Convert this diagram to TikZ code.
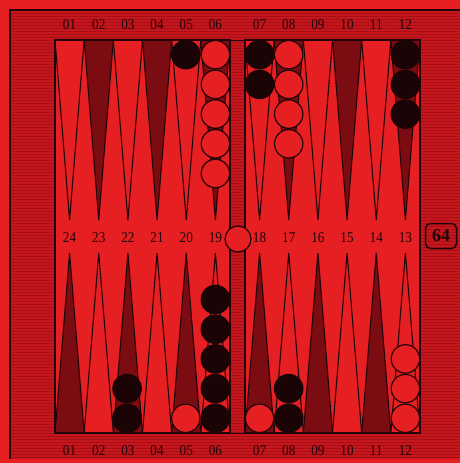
\documentclass[tikz,border=0pt]{standalone}
\usepackage{fontspec}
\setmainfont{Liberation Serif}
\newfontfamily\numfont{Liberation Serif}[FakeStretch=0.88]
\definecolor{field}{RGB}{230,32,34}
\definecolor{framec}{RGB}{196,22,28}
\definecolor{stripe}{RGB}{168,16,22}
\definecolor{darkpt}{RGB}{122,12,18}
\definecolor{blk}{RGB}{26,4,6}
\definecolor{ink}{RGB}{34,4,8}
\tikzset{
  numlbl/.style={inner sep=0pt, text=ink, font=\numfont\fontsize{15}{15}\selectfont},
  lightpt/.style={fill=field, draw=ink, line width=1.1pt, line join=miter},
  darkpoint/.style={fill=darkpt, draw=ink, line width=1.1pt},
  whitechk/.style={circle, minimum size=28.4pt, inner sep=0pt, fill=field, draw=ink, line width=1.2pt},
  blackchk/.style={circle, minimum size=28.6pt, inner sep=0pt, fill=blk, draw=blk, line width=1pt},
  cubebox/.style={draw=ink, line width=1.5pt, rounded corners=5pt, minimum width=31pt, minimum height=25pt, inner sep=0pt, text=ink, font=\bfseries\fontsize{18}{18}\selectfont}
}
\begin{document}
\begin{tikzpicture}[x=1pt,y=-1pt]
\useasboundingbox (0,0) rectangle (460,463);
% background
\fill[field] (0,0) rectangle (460,463);
% frame
\fill[framec] (10,10) rectangle (460,459);
\foreach \yy in {13,16,...,457} \draw[stripe, line width=0.6pt] (10,\yy) -- (460,\yy);
\draw[ink, line width=1.6pt] (10,459) -- (10,10) -- (460,10);
% bar
\fill[framec] (230,40) rectangle (245,433);
\foreach \yy in {42,45,...,432} \draw[stripe, line width=0.6pt] (231,\yy) -- (244,\yy);
\draw[ink, line width=1pt] (230,40) rectangle (245,433);
% fields
\fill[field] (55,40) rectangle (230,433);
\fill[field] (245,40) rectangle (420,433);
% points
\def\w{29.1667}
\foreach \hx in {55,245}{
  \foreach \i in {0,...,5}{
    \pgfmathsetmacro{\xa}{\hx+\i*\w}
    \pgfmathsetmacro{\xm}{\xa+\w/2}
    \pgfmathsetmacro{\xb}{\xa+\w}
    \pgfmathtruncatemacro{\odd}{mod(\i,2)}
    \ifnum\odd=1
      \path[darkpoint] (\xa,40) -- (\xm,220) -- (\xb,40) -- cycle;
      \path[lightpt] (\xa,433) -- (\xm,253) -- (\xb,433) -- cycle;
    \else
      \path[lightpt] (\xa,40) -- (\xm,220) -- (\xb,40) -- cycle;
      \path[darkpoint] (\xa,433) -- (\xm,253) -- (\xb,433) -- cycle;
    \fi
  }
}
\draw[ink, line width=1.3pt] (55,40) rectangle (230,433);
\draw[ink, line width=1.3pt] (245,40) rectangle (420,433);
% checkers top
\node[blackchk] (t05a) at (185.8,54.7) {};
\foreach \k/\yy in {a/54.7,b/84.4,c/114.1,d/143.8,e/173.5} \node[whitechk] (t06\k) at (215.4,\yy) {};
\foreach \k/\yy in {a/54.7,b/84.4} \node[blackchk] (t07\k) at (259.6,\yy) {};
\foreach \k/\yy in {a/54.7,b/84.4,c/114.1,d/143.8} \node[whitechk] (t08\k) at (288.7,\yy) {};
\foreach \k/\yy in {a/54.7,b/84.4,c/114.1} \node[blackchk] (t12\k) at (405.4,\yy) {};
% checkers bottom
\foreach \k/\yy in {a/418.3,b/388.6} \node[blackchk] (b22\k) at (127.1,\yy) {};
\node[whitechk] (b20a) at (185.8,418.3) {};
\foreach \k/\yy in {a/418.3,b/388.6,c/358.9,d/329.2,e/299.5} \node[blackchk] (b19\k) at (215.4,\yy) {};
\node[whitechk] (b18a) at (259.6,418.3) {};
\foreach \k/\yy in {a/418.3,b/388.6} \node[blackchk] (b17\k) at (288.7,\yy) {};
\foreach \k/\yy in {a/418.3,b/388.6,c/358.9} \node[whitechk] (b13\k) at (405.4,\yy) {};
% bar checker
\node[whitechk, minimum size=26pt] (barchk) at (238,239) {};
% numbers
\foreach \i/\t/\m/\b in {0/01/24/01,1/02/23/02,2/03/22/03,3/04/21/04,4/05/20/05,5/06/19/06}{
  \node[numlbl] (top\t) at (55+\i*\w+\w/2,25) {\t};
  \node[numlbl] (mid\m) at (55+\i*\w+\w/2,238) {\m};
  \node[numlbl] (bot\b) at (55+\i*\w+\w/2,451) {\b};
}
\foreach \i/\t/\m/\b in {0/07/18/07,1/08/17/08,2/09/16/09,3/10/15/10,4/11/14/11,5/12/13/12}{
  \node[numlbl] (top\t) at (245+\i*\w+\w/2,25) {\t};
  \node[numlbl] (mid\m) at (245+\i*\w+\w/2,238) {\m};
  \node[numlbl] (bot\b) at (245+\i*\w+\w/2,451) {\b};
}
% cube
\node[cubebox] (cube) at (441,236) {64};
\end{tikzpicture}
\end{document}
